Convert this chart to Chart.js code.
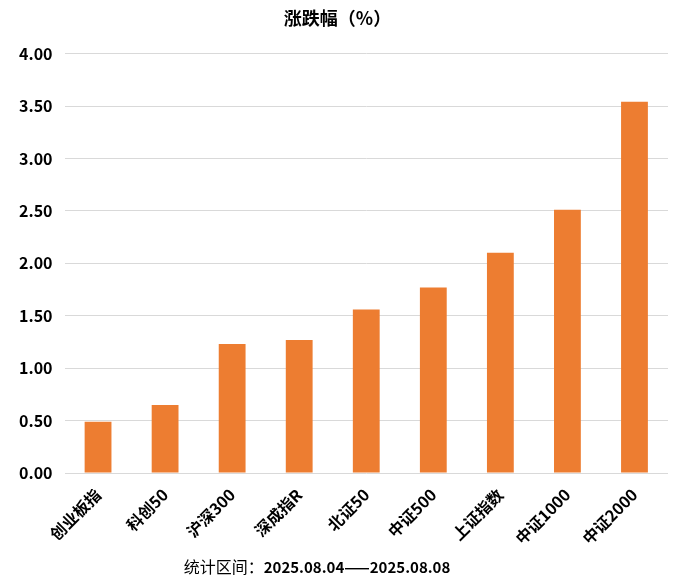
<!DOCTYPE html>
<html>
<head>
<meta charset="utf-8">
<script src="https://cdn.jsdelivr.net/npm/chart.js@4"></script>
<style>
  html, body { margin: 0; padding: 0; background: #fff; }
  #wrap { width: 678px; height: 582px; }
</style>
</head>
<body>
<div id="wrap"><canvas id="c" width="678" height="582"></canvas></div>
<script>
const categories = ["创业板指", "科创50", "沪深300", "深成指R", "北证50", "中证500", "上证指数", "中证1000", "中证2000"];
const changePct = [0.49, 0.65, 1.23, 1.27, 1.56, 1.77, 2.10, 2.51, 3.54];
const chartTitle = "涨跌幅（%）";
const footerLabel = "统计区间：";
const footerRange = "2025.08.04——2025.08.08";

const FONT = "'Noto Sans CJK SC', 'Noto Sans', sans-serif";

const footerPlugin = {
  id: 'footerText',
  afterDraw(chart) {
    const ctx = chart.ctx;
    ctx.save();
    ctx.fillStyle = '#000';
    ctx.textBaseline = 'middle';
    ctx.font = "16px " + FONT;
    const w1 = ctx.measureText(footerLabel).width;
    ctx.font = "bold 15px " + FONT;
    const w2 = ctx.measureText(footerRange).width;
    const cx = 317;
    let x = cx - (w1 + w2) / 2;
    const y = chart.height - 15;
    ctx.font = "16px " + FONT;
    ctx.fillText(footerLabel, x, y);
    ctx.font = "bold 15px " + FONT;
    ctx.fillText(footerRange, x + w1, y);
    ctx.restore();
  }
};

new Chart(document.getElementById('c'), {
  type: 'bar',
  data: {
    labels: categories,
    datasets: [{
      data: changePct,
      backgroundColor: '#ED7D31',
      borderWidth: 0,
      barPercentage: 0.4,
      categoryPercentage: 1.0
    }]
  },
  options: {
    responsive: false,
    animation: false,
    layout: { padding: { left: 7, right: 10, top: 0, bottom: 22 } },
    plugins: {
      legend: { display: false },
      tooltip: { enabled: false },
      title: {
        display: true,
        text: chartTitle,
        color: '#000',
        font: { family: FONT, size: 18, weight: 'bold' },
        padding: { top: 7, bottom: 25 }
      }
    },
    scales: {
      x: {
        grid: { display: false, drawTicks: false },
        border: { display: false },
        ticks: {
          color: '#000',
          font: { family: FONT, size: 16, weight: 'bold' },
          minRotation: 45,
          maxRotation: 45,
          padding: 12
        }
      },
      y: {
        min: 0,
        max: 4,
        grid: { color: '#d9d9d9', lineWidth: 1, drawTicks: false },
        border: { display: false },
        ticks: {
          stepSize: 0.5,
          color: '#000',
          font: { family: FONT, size: 16, weight: 'bold' },
          padding: 12,
          callback: (v) => Number(v).toFixed(2)
        }
      }
    }
  },
  plugins: [footerPlugin]
});
</script>
</body>
</html>
